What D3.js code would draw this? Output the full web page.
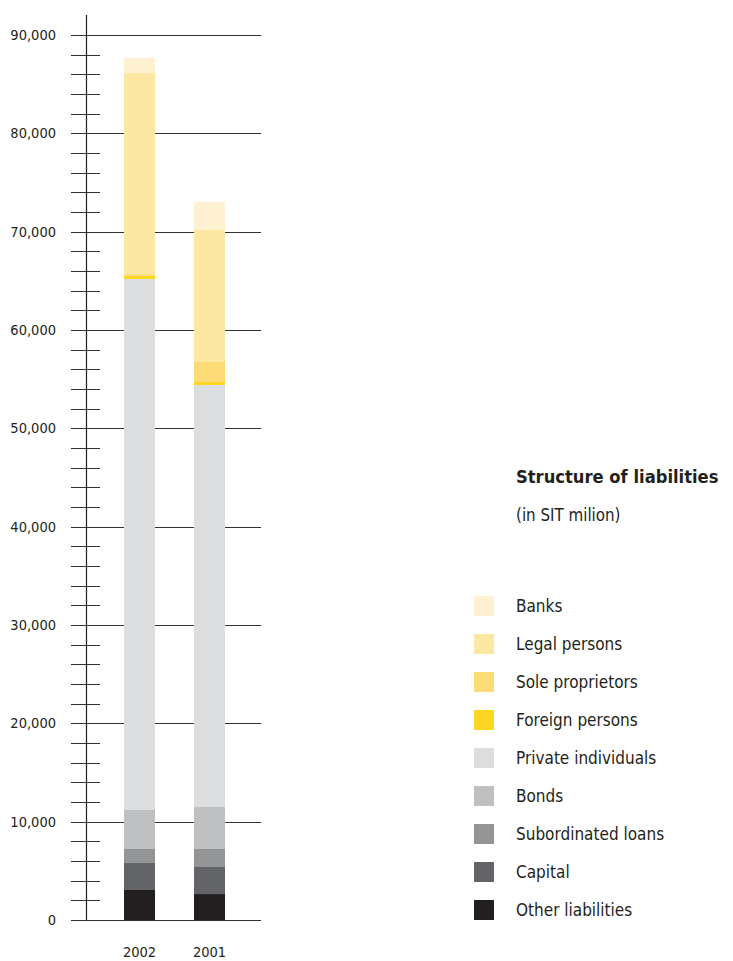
<!DOCTYPE html>
<html>
<head>
<meta charset="utf-8">
<script src="https://cdn.jsdelivr.net/npm/d3@7"></script>
<style>
  html, body { margin: 0; padding: 0; background: #fff; }
  svg { display: block; }
  text { font-family: "Liberation Sans Narrow", "DejaVu Sans Condensed", "Roboto", sans-serif; fill: #231f20; }
</style>
</head>
<body>
<svg id="chart" width="733" height="961"></svg>
<script>
// Liabilities by source, SIT million
const years = ["2002", "2001"];
const seriesNames = [
  "Other liabilities", "Capital", "Subordinated loans", "Bonds",
  "Private individuals", "Foreign persons", "Sole proprietors",
  "Legal persons", "Banks"
];
const otherLiabilities   = [3050, 2640];
const capital            = [2750, 2750];
const subordinatedLoans  = [1420, 1830];
const bonds              = [3970, 4270];
const privateIndividuals = [54000, 42920];
const foreignPersons     = [320, 300];
const soleProprietors    = [200, 2040];
const legalPersons       = [20440, 13420];
const banks              = [1520, 2850];
const seriesColors = ["#231f20", "#636467", "#939496", "#bebfc1",
  "#dcdddf", "#fdd523", "#fddc78", "#fde8a3", "#fef1d2"];
const yTicks = [0, 10000, 20000, 30000, 40000, 50000, 60000, 70000, 80000, 90000];

const seriesValues = [otherLiabilities, capital, subordinatedLoans, bonds,
  privateIndividuals, foreignPersons, soleProprietors, legalPersons, banks];

const rows = years.map((yr, i) => {
  const r = { year: yr };
  seriesNames.forEach((n, k) => { r[n] = seriesValues[k][i]; });
  return r;
});

const svg = d3.select("#chart");
const y = d3.scaleLinear().domain([0, 90000]).range([920, 35]);
const x = d3.scaleBand().domain(years).range([89, 260]).paddingInner(0.557).paddingOuter(0.5);
const axisX = 86;

// minor ticks every 2,000
const minor = d3.range(0, 90001, 2000).filter(v => v % 10000 !== 0);
svg.append("g").selectAll("line").data(minor).join("line")
  .attr("x1", 71).attr("x2", 100)
  .attr("y1", d => Math.round(y(d)) + 0.5).attr("y2", d => Math.round(y(d)) + 0.5)
  .attr("stroke", "#333").attr("stroke-width", 1);

// major gridlines
svg.append("g").selectAll("line").data(yTicks).join("line")
  .attr("x1", 71).attr("x2", 261)
  .attr("y1", d => Math.round(y(d)) + 0.5).attr("y2", d => Math.round(y(d)) + 0.5)
  .attr("stroke", "#333").attr("stroke-width", 1);

// stacked bars
const stack = d3.stack().keys(seriesNames)(rows);
svg.append("g").selectAll("g").data(stack).join("g")
  .attr("fill", (d, i) => seriesColors[i])
  .selectAll("rect").data(d => d).join("rect")
  .attr("x", d => x(d.data.year))
  .attr("width", x.bandwidth())
  .attr("y", d => y(d[1]))
  .attr("height", d => y(d[0]) - y(d[1]));

// vertical axis line
svg.append("line")
  .attr("x1", axisX + 0.5).attr("x2", axisX + 0.5)
  .attr("y1", 15).attr("y2", 920)
  .attr("stroke", "#231f20").attr("stroke-width", 1.2);

// value labels
const fmt = d3.format(",");
svg.append("g").selectAll("text").data(yTicks).join("text")
  .attr("x", 56).attr("y", d => y(d) + 5)
  .attr("text-anchor", "end")
  .attr("font-size", 14.5)
  .text(d => fmt(d));

// year labels
svg.append("g").selectAll("text").data(years).join("text")
  .attr("x", d => x(d) + x.bandwidth() / 2)
  .attr("y", 957)
  .attr("text-anchor", "middle")
  .attr("font-size", 14.5)
  .text(d => d);

// title
svg.append("text").attr("x", 516).attr("y", 483)
  .attr("font-size", 18.2).attr("font-weight", "bold")
  .text("Structure of liabilities");
svg.append("text").attr("x", 516).attr("y", 521)
  .attr("font-size", 16.8)
  .text("(in SIT milion)");

// legend, top entry first
const legendItems = seriesNames.map((n, i) => ({ name: n, color: seriesColors[i] })).reverse();
const lg = svg.append("g").selectAll("g").data(legendItems).join("g")
  .attr("transform", (d, i) => `translate(474, ${596 + i * 38})`);
lg.append("rect").attr("width", 20).attr("height", 20).attr("fill", d => d.color);
lg.append("text").attr("x", 42).attr("y", 16).attr("font-size", 17).text(d => d.name);
</script>
</body>
</html>
